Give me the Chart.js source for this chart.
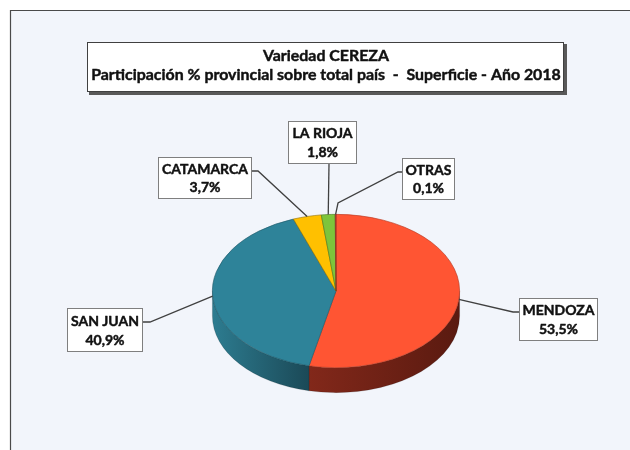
<!DOCTYPE html>
<html><head><meta charset="utf-8">
<script src="https://cdn.jsdelivr.net/npm/chart.js@4.4.1/dist/chart.umd.min.js"></script>
<style>html,body{margin:0;padding:0;background:#fff}#wrap{width:630px;height:450px;position:relative}canvas{display:block}</style>
</head><body><div id="wrap"><canvas id="c" width="630" height="450"></canvas></div>
<script>
// ---- data ----
const categories = ['MENDOZA', 'SAN JUAN', 'CATAMARCA', 'LA RIOJA', 'OTRAS'];
const shares = [53.5, 40.9, 3.7, 1.8, 0.1];
const titleLines = ['Variedad CEREZA', 'Participación % provincial sobre total país  -  Superficie - Año 2018'];

// ---- styles ----
const sliceColors = ['#FF5533', '#2E8399', '#FFC000', '#7DC43B', '#C8463A'];
const borderColors = ['#B83A22', '#1F5A6A', '#9A7400', '#4E7E22', '#8A2A20'];
const sideColors = [['#82281A', '#5A1A10'], ['#2D7C90', '#1B4957'], ['#B88A00', '#8A6800'], ['#5E9A2C', '#44741E'], ['#7A241A', '#5A1A10']];
const FONT = "Lato, 'Open Sans', 'Liberation Sans', sans-serif";
const WEIGHT = 'bold';
const TILT = 0.62, DEPTH = 25;

// label layout (positions of annotation boxes, not data)
const labelLayout = [
  { box: [519, 298, 79, 43], path: [[519, 312], [513, 312]] },
  { box: [67, 308, 76, 44], path: [[143, 322], [150, 322]] },
  { box: [158, 157, 94, 42], path: [[252, 171], [258, 171]] },
  { box: [288, 121, 69, 43], path: [[329, 164]] },
  { box: [402, 158, 53, 42], path: [[402, 172], [398, 172], [338, 203]] }
];

function fmt(v) { return v.toFixed(1).replace('.', ',') + '%'; }
function fitFont(ctx, text, width, base) {
  ctx.font = WEIGHT + ' 100px ' + FONT;
  const w = ctx.measureText(text).width;
  return Math.min(base * 1.2, 100 * width / w);
}
function boldText(ctx, t, x, y) {
  ctx.lineWidth = 0.45; ctx.strokeStyle = ctx.fillStyle; ctx.lineJoin = 'round';
  ctx.strokeText(t, x, y); ctx.fillText(t, x, y);
}

const deco = {
  id: 'deco',
  beforeDraw(chart) {
    const ctx = chart.ctx;
    ctx.save();
    ctx.fillStyle = '#fff'; ctx.fillRect(0, 0, 630, 450);
    ctx.fillStyle = '#F2F5FB'; ctx.fillRect(10, 10, 700, 500);
    ctx.strokeStyle = '#4a4a4a'; ctx.lineWidth = 1.2;
    ctx.beginPath(); ctx.moveTo(10.5, 460); ctx.lineTo(10.5, 10.5); ctx.lineTo(640, 10.5); ctx.stroke();
    ctx.restore();
  },
  beforeDatasetsDraw(chart) {
    const ctx = chart.ctx;
    const arcs = chart.getDatasetMeta(0).data;
    const cx = arcs[0].x, cy = arcs[0].y, rx = arcs[0].outerRadius, ry = rx * TILT;
    arcs.forEach((a, i) => {
      const a1 = Math.max(a.startAngle, 0), a2 = Math.min(a.endAngle, Math.PI);
      if (a2 <= a1) return;
      const xL = cx + rx * Math.cos(a2), xR = cx + rx * Math.cos(a1);
      const g = ctx.createLinearGradient(Math.min(xL, xR), 0, Math.max(xL, xR), 0);
      g.addColorStop(0, sideColors[i][0]); g.addColorStop(1, sideColors[i][1]);
      ctx.save();
      ctx.beginPath();
      ctx.ellipse(cx, cy, rx, ry, 0, a1, a2, false);
      ctx.lineTo(cx + rx * Math.cos(a2), cy + ry * Math.sin(a2) + DEPTH);
      ctx.ellipse(cx, cy + DEPTH, rx, ry, 0, a2, a1, true);
      ctx.closePath();
      ctx.fillStyle = g; ctx.fill();
      ctx.strokeStyle = 'rgba(0,0,0,0.25)'; ctx.lineWidth = 0.6; ctx.stroke();
      ctx.restore();
    });
    ctx.save();
    ctx.translate(cx, cy); ctx.scale(1, TILT); ctx.translate(-cx, -cy);
  },
  afterDatasetsDraw(chart) {
    const ctx = chart.ctx;
    ctx.restore();
    const arcs = chart.getDatasetMeta(0).data;
    const cx = arcs[0].x, cy = arcs[0].y, rx = arcs[0].outerRadius, ry = rx * TILT;
    const lblSize = fitFont(ctx, categories[2], 86, 13);
    arcs.forEach((a, i) => {
      const m = (a.startAngle + a.endAngle) / 2;
      const ax = cx + rx * Math.cos(m), ay = cy + ry * Math.sin(m);
      const L = labelLayout[i];
      ctx.save();
      ctx.strokeStyle = '#404040'; ctx.lineWidth = 1.3;
      ctx.beginPath();
      ctx.moveTo(L.path[0][0], L.path[0][1]);
      for (let k = 1; k < L.path.length; k++) ctx.lineTo(L.path[k][0], L.path[k][1]);
      ctx.lineTo(ax, ay);
      ctx.stroke();
      const [bx, by, bw, bh] = L.box;
      ctx.fillStyle = '#fff'; ctx.fillRect(bx, by, bw, bh);
      ctx.strokeStyle = '#7f7f7f'; ctx.lineWidth = 1;
      ctx.strokeRect(bx + 0.5, by + 0.5, bw - 1, bh - 1);
      ctx.fillStyle = '#111'; ctx.textAlign = 'center'; ctx.textBaseline = 'middle';
      ctx.font = WEIGHT + ' ' + lblSize + 'px ' + FONT;
      boldText(ctx, categories[i], bx + bw / 2, by + bh * 0.3);
      boldText(ctx, fmt(shares[i]), bx + bw / 2, by + bh * 0.73);
      ctx.restore();
    });
    ctx.save();
    ctx.fillStyle = '#595959'; ctx.fillRect(89, 44, 478, 51);
    ctx.fillStyle = '#fff'; ctx.fillRect(87, 42, 477, 50);
    ctx.strokeStyle = '#404040'; ctx.lineWidth = 1;
    ctx.strokeRect(87.5, 42.5, 476, 49);
    const tSize = fitFont(ctx, titleLines[1], 470, 15);
    ctx.font = WEIGHT + ' ' + tSize + 'px ' + FONT;
    ctx.fillStyle = '#111'; ctx.textAlign = 'center'; ctx.textBaseline = 'middle';
    boldText(ctx, titleLines[0], 326, 56);
    boldText(ctx, titleLines[1], 326, 75);
    ctx.restore();
  }
};

new Chart(document.getElementById('c'), {
  type: 'pie',
  data: {
    labels: categories,
    datasets: [{
      data: shares,
      backgroundColor: sliceColors,
      borderColor: borderColors,
      borderWidth: 0.8,
      clip: false
    }]
  },
  options: {
    responsive: false,
    animation: false,
    events: [],
    rotation: 0,
    layout: { padding: { left: 212, right: 170, top: 167, bottom: 35 } },
    plugins: { legend: { display: false }, title: { display: false }, tooltip: { enabled: false } }
  },
  plugins: [deco]
});
</script>
</body></html>
